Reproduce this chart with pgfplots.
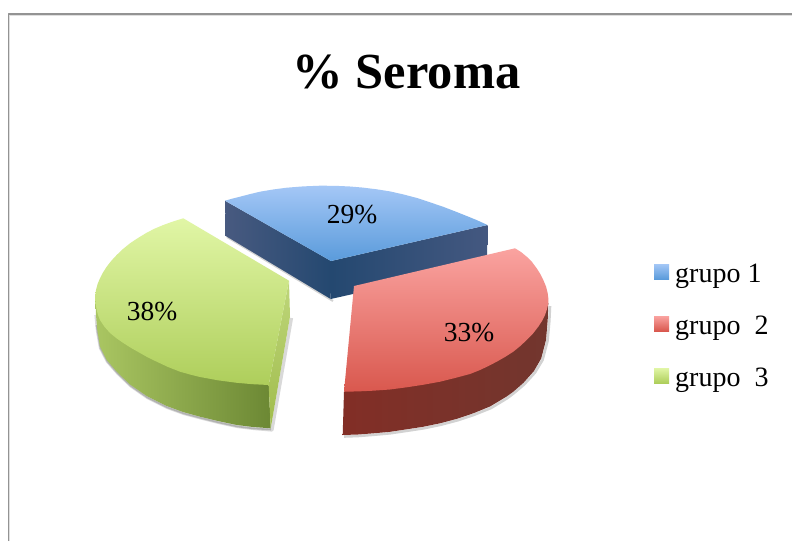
\documentclass[border=0pt]{standalone}
\usepackage{fontspec}
\setmainfont{Liberation Serif}
\usepackage{pgfplots}
\pgfplotsset{compat=1.18}
\definecolor{bT}{HTML}{A4C7F6}\definecolor{bB}{HTML}{5A9BDB}
\definecolor{rT}{HTML}{FAA3A0}\definecolor{rB}{HTML}{D9584E}
\definecolor{gT}{HTML}{E1F6A6}\definecolor{gB}{HTML}{AECE5B}
\begin{document}
\begin{tikzpicture}
\begin{axis}[hide axis,scale only axis,width=792pt,height=541pt,
  xmin=0,xmax=792,ymin=0,ymax=541,y dir=reverse,
  every axis plot/.append style={line join=round}]
% page and frame
\addplot[draw=none,fill=white] coordinates {(0,0)(792,0)(792,541)(0,541)(0,0)};
\addplot[draw=gray!25,line width=1.2pt] coordinates {(9.6,541)(9.6,15.6)(792,15.6)};
\addplot[draw=gray!85,line width=1.4pt] coordinates {(8.2,541)(8.2,14)(792,14)};
% shadows
\addplot[draw=gray!35,line width=2pt] coordinates {(227,237)(333,301)};
\addplot[draw=gray!30,line width=3.2pt] coordinates {(96,315)(97.5,331)(100.5,348)(107.5,361.5)(118,373.5)(131,386)(147.5,397.5)(167.5,407.5)(184,413.5)(201,418)(219,422.5)(237.5,426.5)(254,428.5)(272,430)(291.5,318)};
\addplot[draw=gray!60,line width=1.6pt] coordinates {(96.5,325)(97.5,331)(100.5,348)(107.5,361.5)(118,373.5)(131,386)(147.5,397.5)(167.5,407.5)(184,413.5)(201,418)(219,422.5)(237.5,426.5)(254,428.5)(271,429.5)};
\addplot[draw=gray!35,line width=2.6pt] coordinates {(344,436.5)(358,436)(373.5,434.8)(390,433.3)(407,430.8)(423.5,428.3)(440.5,424.8)(457.5,420.3)(474,414.8)(491,408)(507.5,398)(514,393)(524.3,384.3)(535,372.5)(542.5,360)(547.5,341)(549.3,321)(550,306)};
% blue
\addplot[draw=none,left color={rgb,255:red,72;green,90;blue,128},right color={rgb,255:red,36;green,72;blue,112}] coordinates {(225,200.7)(225.7,236)(330.7,299)(331,261)(225,200.7)};
\addplot[draw=none,left color={rgb,255:red,36;green,72;blue,112},middle color={rgb,255:red,44;green,84;blue,120},right color={rgb,255:red,68;green,88;blue,128}] coordinates {(331,261)(330.7,299)(487,264)(487.5,225)(331,261)};
\addplot[draw=none,top color=bT,bottom color=bB] coordinates {(331,261)(225,200.7)(232.5,198.6)(240,196.7)(250,194.1)(260,191.7)(273,189.5)(286.7,187.7)(303,186.4)(320,185.7)(335,185.8)(350,186.5)(363,187.6)(376.7,189.3)(390,191.4)(403.3,194.4)(417,198)(430,202.3)(443.5,206.9)(456.7,212)(467,216.1)(477,220.2)(487.5,225)(331,261)};
% green
\addplot[draw=none,left color={rgb,255:red,170;green,198;blue,98},middle color={rgb,255:red,142;green,166;blue,76},right color={rgb,255:red,108;green,136;blue,52}] coordinates {(95.3,298)(96,315)(97.3,330)(100,346.7)(106.7,360)(117,372)(130,384.5)(146.7,396)(166.7,406)(183,412)(200,416.7)(218,421)(236.7,425)(253,427)(270.7,428.3)(268.7,385)(95.3,298)};
\addplot[draw=none,top color={rgb,255:red,190;green,214;blue,122},bottom color={rgb,255:red,160;green,188;blue,76}] coordinates {(289,280.7)(290,316.7)(270.7,428.3)(268.7,385)(289,280.7)};
\addplot[draw=none,top color=gT,bottom color=gB] coordinates {(183.3,218.3)(173,221.5)(163.3,225)(154.5,228.7)(146.7,232.7)(138,238)(130,243.3)(123,249)(116.7,255)(111.3,260.8)(106.7,266.7)(103,272.5)(100,278.3)(97.6,284)(96,290)(95.3,295)(95.4,300)(95.8,305)(96.7,310)(98,315)(100,320)(104.5,326.8)(110,333)(116.5,338.3)(123.3,343)(131.5,348.2)(140,353)(148,357.5)(156.7,361.7)(168,367)(180,371.7)(190,374.5)(200,377)(218,380.3)(236.7,382.8)(252.7,384.2)(268.7,385)(289,280.7)(183.3,218.3)};
% red
\addplot[draw=none,left color={rgb,255:red,130;green,46;blue,38},middle color={rgb,255:red,98;green,30;blue,28},right color={rgb,255:red,114;green,54;blue,46}] coordinates {(344,391.7)(342.7,435)(358,434.5)(373.3,433.3)(390,431.8)(406.7,429.3)(423,426.8)(440,423.3)(457,418.8)(473.3,413.3)(490,406.5)(506.7,396.5)(513.3,391.7)(523.3,383)(534,371)(541.2,358.5)(546,340)(547.7,320)(548.3,303)(344,391.7)};
\addplot[draw=none,top color=rT,bottom color=rB] coordinates {(354,286)(515,248.3)(521,252)(526.7,256.7)(532,262)(536.7,268.3)(540.3,274)(543.3,280)(546,286.5)(547.7,293.3)(548.3,298)(548.3,303.3)(547,309)(545,315)(542,321)(538.3,326.7)(533,333.5)(526.7,340)(520.3,346)(513.3,351.7)(505,357)(496.7,361.7)(488.5,366)(480,370)(470,374)(455,378)(440,381.7)(423,384.8)(406.7,387.3)(390,389.5)(373,390.7)(358,391.4)(344,391.7)(354,286)};
% legend keys
\addplot[draw=none,top color=bT,bottom color=bB] coordinates {(654,264)(669,264)(669,279)(654,279)(654,264)};
\addplot[draw=none,top color=rT,bottom color=rB] coordinates {(654,316)(669,316)(669,331)(654,331)(654,316)};
\addplot[draw=none,top color=gT,bottom color=gB] coordinates {(654,368)(669,368)(669,383)(654,383)(654,368)};
% text
\node[inner sep=0pt,anchor=base west] at (axis cs:292.5,88) {\fontsize{50.5}{56}\selectfont\bfseries \%\ Seroma};
\node[inner sep=0pt,anchor=base] at (axis cs:352,223.5) {\fontsize{27.5}{30}\selectfont 29\%};
\node[inner sep=0pt,anchor=base] at (axis cs:152,320) {\fontsize{27.5}{30}\selectfont 38\%};
\node[inner sep=0pt,anchor=base] at (axis cs:469,341.7) {\fontsize{27.5}{30}\selectfont 33\%};
\node[inner sep=0pt,anchor=base west] at (axis cs:675,282) {\fontsize{28}{30}\selectfont grupo 1};
\node[inner sep=0pt,anchor=base west] at (axis cs:675,334) {\fontsize{28}{30}\selectfont grupo\ \ 2};
\node[inner sep=0pt,anchor=base west] at (axis cs:675,386) {\fontsize{28}{30}\selectfont grupo\ \ 3};
\end{axis}
\end{tikzpicture}
\end{document}
